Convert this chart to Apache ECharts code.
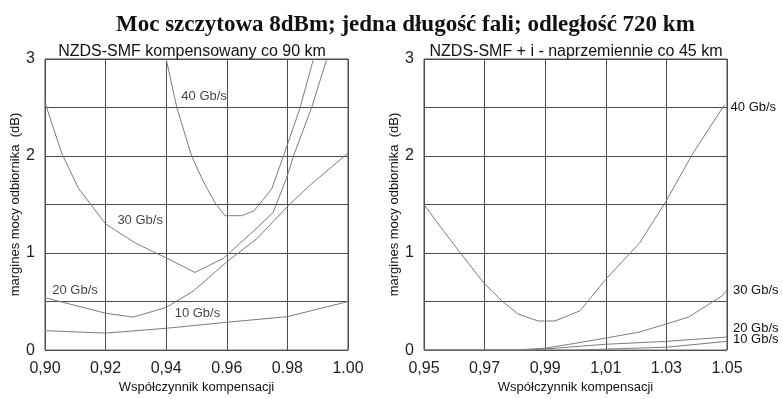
<!DOCTYPE html>
<html lang="pl">
<head>
<meta charset="UTF-8">
<title>Moc szczytowa 8dBm</title>
<script src="https://cdn.jsdelivr.net/npm/echarts@6/dist/echarts.min.js"></script>
<style>
  html, body { margin: 0; padding: 0; background: #fff; }
  #main { width: 783px; height: 399px; }
</style>
</head>
<body>
<div id="main"></div>
<script>
// tick labels (the original mixes comma and dot)
var leftTicks = ['0,90', '0,92', '0,94', '0.96', '0.98', '1.00'];
var rightTicks = ['0,95', '0,97', '0,99', '1,01', '1.03', '1.05'];

// left panel: NZDS-SMF kompensowany co 90 km  [wspolczynnik, margines dB]
var left40 = [[0.940, 3.0], [0.9435, 2.5], [0.9484, 2.0], [0.9522, 1.74], [0.9561, 1.52], [0.9594, 1.385],
  [0.9649, 1.385], [0.9690, 1.435], [0.9748, 1.66], [0.9787, 2.0], [0.9842, 2.5], [0.9886, 3.0]];
var left30 = [[0.900, 2.55], [0.9055, 2.03], [0.911, 1.67], [0.920, 1.30], [0.930, 1.10], [0.9413, 0.93],
  [0.9495, 0.80], [0.9588, 0.945], [0.969, 1.23], [0.9753, 1.42], [0.9797, 1.77], [0.982, 2.0],
  [0.988, 2.5], [0.993, 3.0]];
var left20 = [[0.900, 0.54], [0.920, 0.38], [0.9291, 0.34], [0.940, 0.44], [0.949, 0.61], [0.960, 0.91],
  [0.970, 1.15], [0.980, 1.48], [0.9875, 1.70], [1.000, 2.03]];
var left10 = [[0.900, 0.20], [0.920, 0.175], [0.940, 0.225], [0.960, 0.287], [0.980, 0.345], [1.000, 0.50]];

// right panel: NZDS-SMF + i - naprzemiennie co 45 km
var right40 = [[0.95, 1.50], [0.9552, 1.28], [0.9618, 1.01], [0.9698, 0.69], [0.9756, 0.51], [0.9811, 0.37],
  [0.9877, 0.30], [0.9932, 0.30], [1.0015, 0.405], [1.01, 0.73], [1.0213, 1.11], [1.03, 1.54],
  [1.0384, 2.01], [1.0492, 2.53]];
var right30 = [[0.95, 0], [0.98, 0], [0.99, 0.02], [1.00, 0.07], [1.01, 0.125], [1.021, 0.185], [1.03, 0.27],
  [1.0373, 0.34], [1.0484, 0.56], [1.05, 0.62]];
var right20 = [[0.95, 0], [0.985, 0], [1.01, 0.06], [1.03, 0.09], [1.05, 0.135]];
var right10 = [[0.95, 0], [1.00, 0], [1.03, 0.03], [1.05, 0.09]];

// where the rate labels sit in the left panel (data coordinates)
var leftLabels = [[0.9525, 2.61, '40 Gb/s'], [0.9314, 1.34, '30 Gb/s'], [0.9099, 0.62, '20 Gb/s'], [0.9503, 0.38, '10 Gb/s']];

var sans = '"Liberation Sans", Arial, sans-serif';
var gridColor = '#4d4d4d';
var curveColor = '#7c7c7c';

// axes are drawn in hundredths from the panel start so ticks fall on 0,2,4...
function shift(data, x0) {
  return data.map(function (p) { return [+((p[0] - x0) * 100).toFixed(4), p[1]].concat(p.slice(2)); });
}

function xAxisFor(idx, ticks) {
  return {
    type: 'value', gridIndex: idx, min: 0, max: 10, interval: 2,
    name: 'Współczynnik kompensacji', nameLocation: 'middle', nameGap: 30,
    nameTextStyle: { fontFamily: sans, fontSize: 13, color: '#111' },
    axisLine: { show: false }, axisTick: { show: false },
    axisLabel: {
      margin: 10, fontFamily: sans, fontSize: 16, color: '#222',
      formatter: function (v) { return ticks[Math.round(v / 2)]; }
    },
    splitLine: { show: true, lineStyle: { color: gridColor, width: 1 } }
  };
}

function yAxisFor(idx) {
  return {
    type: 'value', gridIndex: idx, min: 0, max: 3, interval: 0.5,
    name: 'margines mocy odbiornika  (dB)', nameLocation: 'middle', nameGap: 23,
    nameTextStyle: { fontFamily: sans, fontSize: 13, color: '#111' },
    axisLine: { show: false }, axisTick: { show: false },
    axisLabel: {
      margin: 10, fontFamily: sans, fontSize: 16, color: '#222',
      formatter: function (v) { return v % 1 === 0 ? String(v) : ''; }
    },
    splitLine: { show: true, lineStyle: { color: gridColor, width: 1 } }
  };
}

function curve(name, data, x0, idx, endLabel) {
  var s = {
    name: name, type: 'line', xAxisIndex: idx, yAxisIndex: idx,
    data: shift(data, x0), showSymbol: false, symbol: 'none', silent: true,
    lineStyle: { color: curveColor, width: 1 }
  };
  if (endLabel) {
    s.endLabel = {
      show: true, formatter: name, distance: 6, offset: endLabel,
      fontFamily: sans, fontSize: 13, color: '#111'
    };
  }
  return s;
}

var chart = echarts.init(document.getElementById('main'), null, { renderer: 'canvas' });

chart.setOption({
  animation: false,
  backgroundColor: '#fff',
  title: {
    text: 'Moc szczytowa 8dBm; jedna długość fali; odległość 720 km',
    left: 111, top: 9,
    textStyle: { fontFamily: '"Liberation Serif", "Times New Roman", serif', fontWeight: 'bold', fontSize: 23, color: '#111' }
  },
  graphic: [
    { type: 'text', x: 192, y: 52, style: { text: 'NZDS-SMF kompensowany co 90 km', textAlign: 'center', textVerticalAlign: 'middle', font: '16px ' + sans, fill: '#111' } },
    { type: 'text', x: 576, y: 52, style: { text: 'NZDS-SMF + i - naprzemiennie co 45 km', textAlign: 'center', textVerticalAlign: 'middle', font: '16px ' + sans, fill: '#111' } }
  ],
  grid: [
    { left: 45, top: 59, width: 303, height: 296, show: true, borderColor: gridColor, borderWidth: 1, backgroundColor: 'transparent' },
    { left: 424, top: 59, width: 303, height: 296, show: true, borderColor: gridColor, borderWidth: 1, backgroundColor: 'transparent' }
  ],
  xAxis: [xAxisFor(0, leftTicks), xAxisFor(1, rightTicks)],
  yAxis: [yAxisFor(0), yAxisFor(1)],
  series: [
    curve('40 Gb/s', left40, 0.90, 0),
    curve('30 Gb/s', left30, 0.90, 0),
    curve('20 Gb/s', left20, 0.90, 0),
    curve('10 Gb/s', left10, 0.90, 0),
    {
      name: 'labels', type: 'scatter', xAxisIndex: 0, yAxisIndex: 0, silent: true,
      data: shift(leftLabels, 0.90), symbolSize: 0,
      label: {
        show: true, position: 'inside', fontFamily: sans, fontSize: 13, color: '#111',
        formatter: function (p) { return p.value[2]; }
      }
    },
    curve('40 Gb/s', right40, 0.95, 1, [0, 3]),
    curve('30 Gb/s', right30, 0.95, 1, [0, 0]),
    curve('20 Gb/s', right20, 0.95, 1, [0, -9]),
    curve('10 Gb/s', right10, 0.95, 1, [0, -2])
  ]
});
</script>
</body>
</html>
